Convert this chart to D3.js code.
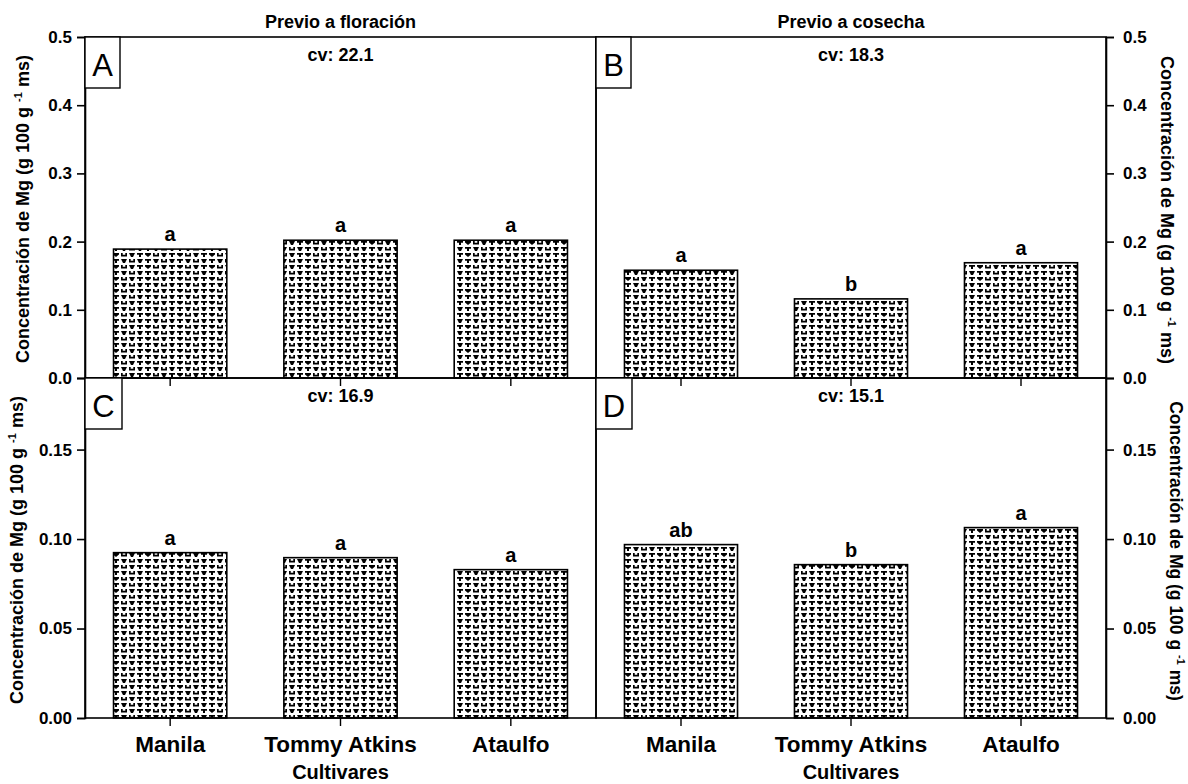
<!DOCTYPE html>
<html><head><meta charset="utf-8">
<script src="https://cdn.jsdelivr.net/npm/d3@7/dist/d3.min.js"></script>
<style>body{margin:0;background:#fff;} svg{font-family:"Liberation Sans",Arial,sans-serif;}</style>
</head><body>
<svg id="c" width="1188" height="784"></svg>
<script>
const cultivars = ["Manila", "Tommy Atkins", "Ataulfo"];
const valsA = [0.189, 0.202, 0.202];
const valsB = [0.158, 0.116, 0.169];
const valsC = [0.0924, 0.0896, 0.0829];
const valsD = [0.0969, 0.0857, 0.1064];
const lettersA = ["a", "a", "a"];
const lettersB = ["a", "b", "a"];
const lettersC = ["a", "a", "a"];
const lettersD = ["ab", "b", "a"];
const cvA = "cv: 22.1", cvB = "cv: 18.3", cvC = "cv: 16.9", cvD = "cv: 15.1";
const topTicks = [0, 0.1, 0.2, 0.3, 0.4, 0.5];
const botTicks = [0, 0.05, 0.10, 0.15];
const titles = ["Previo a floración", "Previo a cosecha"];
const FONT = '"Liberation Sans",Arial,sans-serif';

const svg = d3.select("#c");
const defs = svg.append("defs");
const pat = defs.append("pattern").attr("id", "dots").attr("patternUnits", "userSpaceOnUse")
  .attr("width", 32).attr("height", 12);
pat.append("rect").attr("width", 32).attr("height", 12).attr("fill", "#fff");
const V = "l6,0 l-2,4 h-2 z";
const T = "h6 v1.8 h-2 v2.2 h-2 v-2.2 h-2 z";
const U = "h1.7 v1.8 h2.6 v-1.8 h1.7 v3.6 h-6 z";
const W = "h6 v1.6 l-3,2.4 l-3,-2.4 z";
const glyphs = [[V, T, W, U], [U, V, T, V]];
glyphs.forEach((row, r) => row.forEach((gl, c) => {
  pat.append("path").attr("d", `M${c * 8 + 1},${r * 6 + 1} ` + gl).attr("fill", "#000");
}));

const xL = 85, xM = 596, xR = 1106;
const yT = 37, yM = 378, yB = 718;

function panel(opt) {
  const x = d3.scaleBand().domain(cultivars).range([opt.x0, opt.x1]).paddingInner(0.335).paddingOuter(0.1675);
  const y = d3.scaleLinear().domain(opt.domain).range([opt.y1, opt.y0]);
  const g = svg.append("g");
  g.selectAll("rect.bar").data(opt.vals).join("rect")
    .attr("x", (d, i) => x(cultivars[i])).attr("width", x.bandwidth())
    .attr("y", d => y(d)).attr("height", d => y(0) - y(d))
    .attr("fill", "url(#dots)").attr("stroke", "#000").attr("stroke-width", 1.6);
  g.selectAll("text.sig").data(opt.vals).join("text")
    .attr("x", (d, i) => x(cultivars[i]) + x.bandwidth() / 2).attr("y", d => y(d) - 8)
    .attr("text-anchor", "middle").attr("font-size", 20).attr("font-weight", "bold").text((d, i) => opt.letters[i]);
  g.append("rect").attr("x", opt.x0).attr("y", opt.y0).attr("width", opt.x1 - opt.x0).attr("height", opt.y1 - opt.y0)
    .attr("fill", "none").attr("stroke", "#000").attr("stroke-width", 1.6);
  const left = opt.side === "left";
  const ax = (left ? d3.axisLeft(y) : d3.axisRight(y))
    .tickValues(opt.ticks).tickFormat(d3.format(opt.fmt)).tickSize(8).tickPadding(left ? 5 : 9);
  const ag = g.append("g").attr("transform", `translate(${left ? opt.x0 : opt.x1},0)`).call(ax);
  ag.attr("font-size", 17).attr("font-family", FONT);
  ag.select(".domain").attr("stroke-width", 1.6);
  ag.selectAll(".tick line").attr("stroke-width", 1.6);
  ag.selectAll(".tick text").attr("font-weight", "bold").attr("fill", "#000");
  const xg = g.append("g").attr("transform", `translate(0,${opt.y1})`)
    .call(d3.axisBottom(x).tickSize(8).tickFormat(opt.showX ? d => d : ""));
  xg.attr("font-size", 22.5).attr("font-family", FONT);
  xg.select(".domain").remove();
  xg.selectAll(".tick line").attr("stroke-width", 1.4);
  xg.selectAll(".tick text").attr("font-weight", "bold").attr("fill", "#000").attr("y", 34).attr("dy", 0);
  g.append("text").attr("x", (opt.x0 + opt.x1) / 2).attr("y", opt.y0 + 24).attr("text-anchor", "middle")
    .attr("font-size", 18).attr("font-weight", "bold").text(opt.cv);
  g.append("rect").attr("x", opt.x0).attr("y", opt.y0).attr("width", opt.bw).attr("height", 51)
    .attr("fill", "#fff").attr("stroke", "#000").attr("stroke-width", 1.4);
  g.append("text").attr("x", opt.x0 + opt.bw / 2).attr("y", opt.y0 + 39).attr("text-anchor", "middle")
    .attr("font-size", 31).text(opt.label);
  return {x, y};
}

panel({x0: xL, x1: xM, y0: yT, y1: yM, domain: [0, 0.5], ticks: topTicks, fmt: ".1f", side: "left", vals: valsA, letters: lettersA, cv: cvA, label: "A", bw: 35, showX: false});
panel({x0: xM, x1: xR, y0: yT, y1: yM, domain: [0, 0.5], ticks: topTicks, fmt: ".1f", side: "right", vals: valsB, letters: lettersB, cv: cvB, label: "B", bw: 35, showX: false});
panel({x0: xL, x1: xM, y0: yM, y1: yB, domain: [0, 0.19], ticks: botTicks, fmt: ".2f", side: "left", vals: valsC, letters: lettersC, cv: cvC, label: "C", bw: 37, showX: true});
panel({x0: xM, x1: xR, y0: yM, y1: yB, domain: [0, 0.19], ticks: botTicks, fmt: ".2f", side: "right", vals: valsD, letters: lettersD, cv: cvD, label: "D", bw: 36, showX: true});

svg.append("text").attr("x", (xL + xM) / 2).attr("y", 28).attr("text-anchor", "middle")
  .attr("font-size", 18).attr("font-weight", "bold").text(titles[0]);
svg.append("text").attr("x", (xM + xR) / 2).attr("y", 28).attr("text-anchor", "middle")
  .attr("font-size", 18).attr("font-weight", "bold").text(titles[1]);
svg.append("text").attr("x", (xL + xM) / 2).attr("y", 779).attr("text-anchor", "middle")
  .attr("font-size", 20).attr("font-weight", "bold").text("Cultivares");
svg.append("text").attr("x", (xM + xR) / 2).attr("y", 779).attr("text-anchor", "middle")
  .attr("font-size", 20).attr("font-weight", "bold").text("Cultivares");

function ylabel(cx, cy, rot, fs) {
  const t = svg.append("text").attr("transform", `translate(${cx},${cy}) rotate(${rot})`)
    .attr("text-anchor", "middle").attr("font-size", fs).attr("font-weight", "bold");
  t.append("tspan").text("Concentración de Mg (g 100 g ");
  t.append("tspan").attr("font-size", 11).attr("dy", -7).text("-1");
  t.append("tspan").attr("dy", 7).text(" ms)");
}
ylabel(29, 209, -90, 18);
ylabel(23, 550, -90, 18);
ylabel(1161, 210, 90, 18);
ylabel(1170, 551, 90, 17.5);
</script>
</body></html>
